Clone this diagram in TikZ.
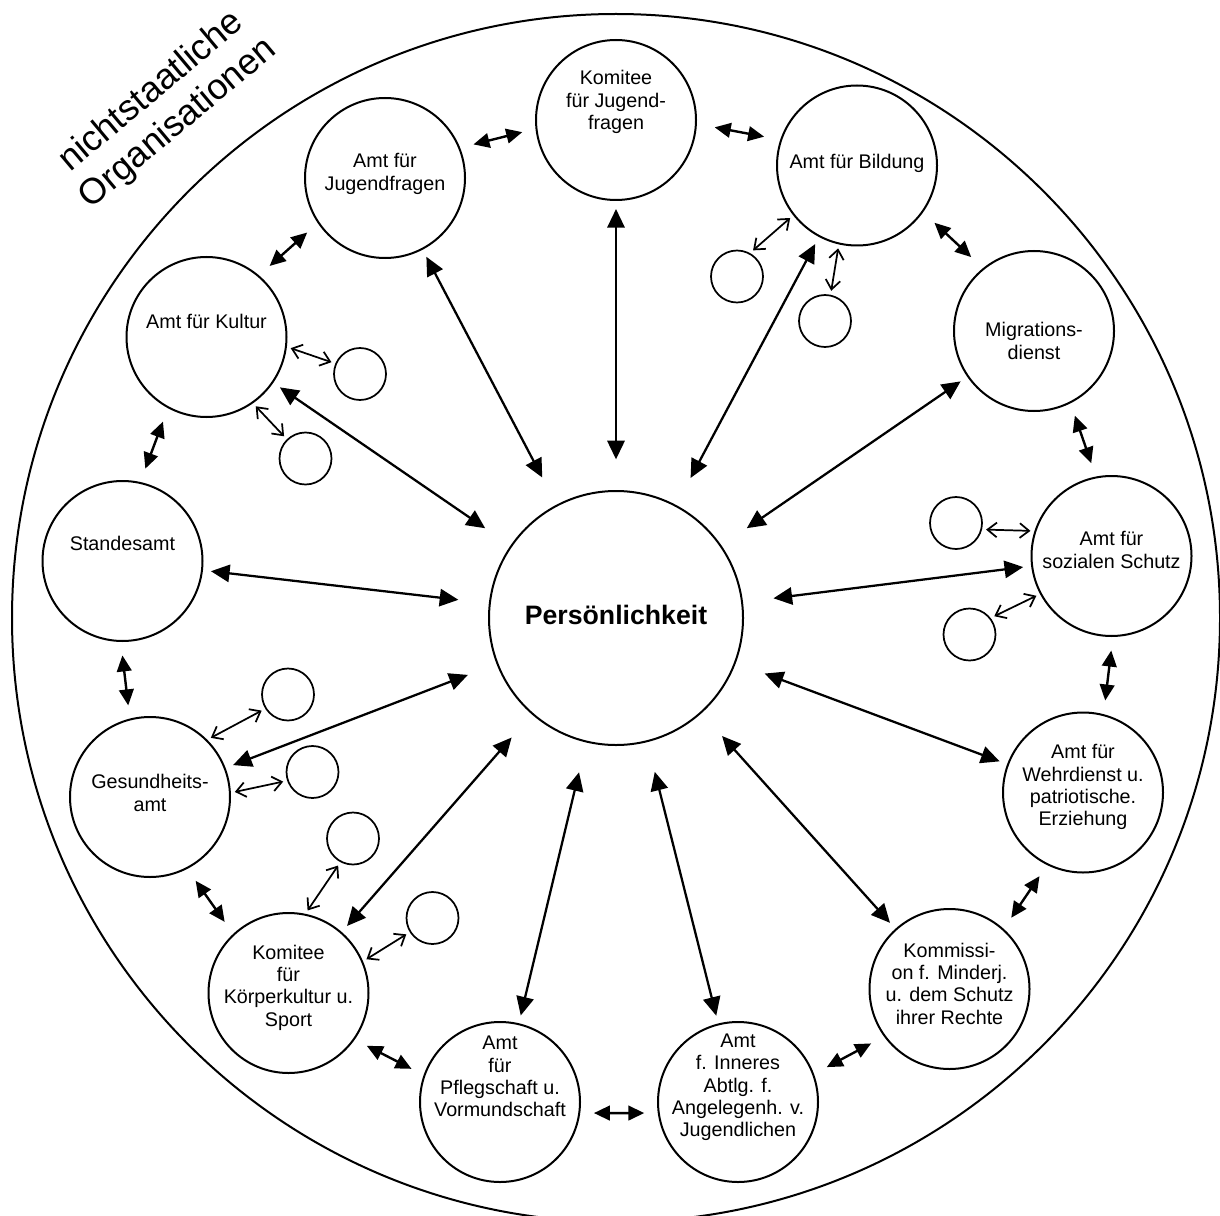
\documentclass[tikz,border=0pt]{standalone}
\usepackage{fontspec}
\setmainfont{Liberation Sans}
\usepackage{tikz}
\usetikzlibrary{arrows.meta,calc,positioning}

\tikzset{
  txt/.style={align=center, font=\fontsize{14.8}{16.8}\selectfont, inner sep=0pt},
  org/.style={circle, draw, line width=1.5pt, minimum size=120pt, inner sep=0pt},
  sub/.style={circle, draw, line width=1.3pt, minimum size=39pt, inner sep=0pt},
  bigarrow/.style={line width=1.7pt, {Triangle[length=14pt,width=13pt]}-{Triangle[length=14pt,width=13pt]}, shorten <=23pt, shorten >=6pt},
  nbarrow/.style={line width=1.8pt, {Triangle[length=12pt,width=11pt]}-{Triangle[length=12pt,width=11pt]}},
  subarrow/.style={line width=1.3pt, {Straight Barb[length=7pt,width=11pt]}-{Straight Barb[length=7pt,width=11pt]}, shorten <=3pt, shorten >=3pt}
}

\begin{document}
\begin{tikzpicture}[x=0.75pt,y=0.75pt,yscale=-1,xscale=1]
    \useasboundingbox (0,0) rectangle (1220,1216);

    % Centre
    \node[circle, draw, line width=1.5pt, minimum size=190.5pt, inner sep=0pt,
          label={[font=\fontsize{20}{22}\selectfont\bfseries, yshift=2pt]center:Persönlichkeit}] (P) at (616,618) {};
    % Outer border
    \draw[line width=1.5pt] (P) circle [radius=604];
    % Text Node
    \node[align=center, font=\fontsize{27}{31}\selectfont, rotate=40] (ngo) at (165,108) {nichtstaatliche\\Organisationen};

    % Offices
    \node[org, label={[txt,yshift=13.5pt]center:Komitee\\für Jugend-\\fragen}] (kom) at (616,120) {};
    \node[org, label={[txt,yshift=3pt]center:Amt für\\Jugendfragen}] (jug) at (385,178) {};
    \node[org, label={[txt,yshift=1.5pt]center:Amt für Bildung}] (bil) at (857,165.5) {};
    \node[org, label={[txt,yshift=-7.5pt]center:Migrations-\\dienst}] (mig) at (1034,331) {};
    \node[org, label={[txt,yshift=4.5pt]center:Amt für\\sozialen Schutz}] (soz) at (1111.5,556) {};
    \node[org, label={[txt,yshift=4pt]center:Amt für\\Wehrdienst u.\\patriotische.\\Erziehung}] (weh) at (1083,792.5) {};
    \node[org, label={[txt,yshift=4pt]center:Kommissi-\\on f. Minderj.\\u. dem Schutz\\ihrer Rechte}] (kmd) at (949.5,989) {};
    \node[org, label={[txt,yshift=11pt]center:Amt\\f. Inneres\\Abtlg. f.\\Angelegenh. v.\\Jugendlichen}] (inn) at (738,1102) {};
    \node[org, label={[txt,yshift=19pt]center:Amt\\für\\Pflegschaft u.\\Vormundschaft}] (pfl) at (500,1102) {};
    \node[org, label={[txt,yshift=4pt]center:Komitee\\für\\Körperkultur u.\\Sport}] (kor) at (288.5,993) {};
    \node[org, label={[txt,yshift=3pt]center:Gesundheits-\\amt}] (ges) at (150,797) {};
    \node[org, label={[txt,yshift=13pt]center:Standesamt}] (sta) at (122.5,561) {};
    \node[org, label={[txt,yshift=12pt]center:Amt für Kultur}] (kul) at (206.5,337) {};

    % Small circles
    \node[sub] (k1) at (360,374) {};
    \node[sub] (k2) at (305.5,458.5) {};
    \node[sub] (b1) at (737,276.5) {};
    \node[sub] (b2) at (825,321) {};
    \node[sub] (s1) at (956,523) {};
    \node[sub] (s2) at (969.5,634.5) {};
    \node[sub] (g1) at (288,694.5) {};
    \node[sub] (g2) at (312.5,772) {};
    \node[sub] (c1) at (353,838.5) {};
    \node[sub] (c2) at (432.5,918) {};

    % Connection
    \foreach \o in {kom,jug,bil,mig,soz,weh,kmd,inn,pfl,kor,ges,sta,kul}
        \draw[bigarrow] (P) -- (\o);
    % Connection
    \foreach \a/\b in {jug/kom,kom/bil,bil/mig,mig/soz,soz/weh,weh/kmd,kmd/inn,inn/pfl,pfl/kor,kor/ges,ges/sta,sta/kul,kul/jug} {
        \coordinate (m) at ($($(\a)!.5!(\b)$)!-10.5pt!(P)$);
        \draw[nbarrow] ($(m)!19pt!(\a)$) -- ($(m)!19pt!(\b)$);
    }
    % Connection
    \draw[subarrow] (kul.-7) -- (k1.157);
    \draw[subarrow] (kul.-55) -- (k2.134);
    \draw[subarrow] (bil.218) -- (b1.61);
    \draw[subarrow] (bil.257) -- (b2.78);
    \draw[subarrow] (soz.162) -- (s1.-14);
    \draw[subarrow] (soz.208) -- (s2.38);
    \draw[subarrow] (ges.45) -- (g1.212);
    \draw[subarrow] (ges.3) -- (g2.199);
    \draw[subarrow] (kor.78) -- (c1.242);
    \draw[subarrow] (kor.23) -- (c2.212);

\end{tikzpicture}
\end{document}
